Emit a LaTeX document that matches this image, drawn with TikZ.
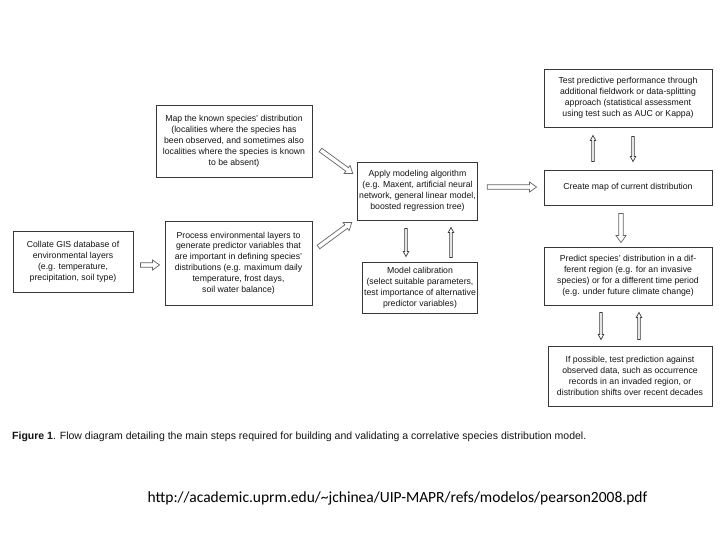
\documentclass[tikz,border=0pt]{standalone}
\usepackage{fontspec}
\setmainfont{Liberation Sans}
\newfontfamily\linkfont{Carlito}
\usepackage{tikz}
\usetikzlibrary{calc}
\definecolor{box_gray}{RGB}{55,55,55}
\definecolor{text_gray}{RGB}{20,20,20}
\definecolor{edge_gray}{RGB}{100,100,100}
\newcommand\boxfont{\fontsize{8.7}{10.9}\selectfont}
\newcommand\capfont{\fontsize{10.5}{12}\selectfont}

\begin{document}
\begin{tikzpicture}[x=1pt,y=-1pt,line join=miter]
    \tikzstyle{box}=[draw=box_gray, line width=0.9pt, rectangle, fill=white, text=text_gray, align=center, font=\boxfont, inner sep=2pt]
    \tikzstyle{hollow}=[draw=edge_gray, fill=white, line width=0.7pt,
      to path={let \p1=(\tikztostart), \p2=(\tikztotarget),
        \n1={atan2(\y2-\y1,\x2-\x1)}, \n2={veclen(\x2-\x1,\y2-\y1)} in
        ([shift={(\p1)},rotate=\n1]0pt,-\sw)
        -- ([shift={(\p1)},rotate=\n1]{\n2*1pt-\hl},-\sw)
        -- ([shift={(\p1)},rotate=\n1]{\n2*1pt-\hl},-\hw)
        -- ([shift={(\p1)},rotate=\n1]{\n2*1pt},0pt)
        -- ([shift={(\p1)},rotate=\n1]{\n2*1pt-\hl},\hw)
        -- ([shift={(\p1)},rotate=\n1]{\n2*1pt-\hl},\sw)
        -- ([shift={(\p1)},rotate=\n1]0pt,\sw) -- cycle}]
    \tikzstyle{fat}=[style=hollow, /utils/exec={\def\sw{2.2pt}\def\hw{5pt}\def\hl{7pt}}]
    \tikzstyle{slim}=[style=hollow, draw=box_gray, /utils/exec={\def\sw{1.2pt}\def\hw{2.7pt}\def\hl{5pt}}]

    \fill[white] (0,0) rectangle (720,540);
    \useasboundingbox (0,0) rectangle (720,540);

    % left column
    \node[box, minimum width=120pt, minimum height=61pt] (collate) at (73,262)
      {Collate GIS database of\\environmental layers\\(e.g. temperature,\\precipitation, soil type)};
    \node[box, minimum width=156pt, minimum height=72pt] (map) at (234,141)
      {Map the known species' distribution\\(localities where the species has\\been observed, and sometimes also\\localities where the species is known\\to be absent)};
    \node[box, minimum width=147pt, minimum height=84pt] (process) at (238.5,263)
      {Process environmental layers to\\generate predictor variables that\\are important in defining species'\\distributions (e.g. maximum daily\\temperature, frost days,\\soil water balance)};

    % middle column
    \node[box, minimum width=117pt, minimum height=58pt] (apply) at (417.5,191)
      {Apply modeling algorithm\\(e.g. Maxent, artificial neural\\network, general linear model,\\boosted regression tree)};
    \node[box, minimum width=112pt, minimum height=51pt] (calib) at (420,287.5)
      {Model calibration\\(select suitable parameters,\\test importance of alternative\\predictor variables)};

    % right column
    \node[box, minimum width=168pt, minimum height=58pt] (test) at (628,98)
      {Test predictive performance through\\additional fieldwork or data-splitting\\approach (statistical assessment\\using test such as AUC or Kappa)};
    \node[box, minimum width=168pt, minimum height=35pt] (create) at (628,187.5)
      {Create map of current distribution};
    \node[box, minimum width=168pt, minimum height=58pt] (predict) at (628,276)
      {Predict species' distribution in a dif-\\ferent region (e.g. for an invasive\\species) or for a different time period\\(e.g. under future climate change)};
    \node[box, minimum width=164pt, minimum height=60pt] (check) at (630,376)
      {If possible, test prediction against\\observed data, such as occurrence\\records in an invaded region, or\\distribution shifts over recent decades};

    \path
     ([shift={(7,3)}]collate.east) edge[fat] ([shift={(-5,2)}]process.west)
     ([shift={(8,9)}]map.east) edge[fat] ([shift={(-4,12)}]apply.north west)
     ([shift={(6,-16)}]process.east) edge[fat] ([shift={(-5,2)}]apply.south west)
     ([shift={(9,-4)}]apply.east) edge[fat] ([shift={(-7,-0.5)}]create.west)
     ([shift={(-11.5,8)}]apply.south) edge[slim] ([shift={(-14,-5)}]calib.north)
     ([shift={(31,-4)}]calib.north) edge[slim] ([shift={(33.5,7)}]apply.south)
     ([shift={(-35,-8)}]create.north) edge[slim] ([shift={(-35,8)}]test.south)
     ([shift={(5,9)}]test.south) edge[slim] ([shift={(5,-8)}]create.north)
     ([shift={(-7,8)}]create.south) edge[fat] ([shift={(-7,-4)}]predict.north)
     ([shift={(-27,7)}]predict.south) edge[slim] ([shift={(-29,-6)}]check.north)
     ([shift={(9,-6)}]check.north) edge[slim] ([shift={(11,7)}]predict.south)
     ;

    \node[anchor=west, font=\capfont, text=text_gray, inner sep=0pt] (caption) at (12,437)
      {\textbf{Figure 1}. Flow diagram detailing the main steps required for building and validating a correlative species distribution model.};
    \node[font=\linkfont\fontsize{15.5}{18}\selectfont, inner sep=0pt] (source) at (397.5,498)
      {http://academic.uprm.edu/\textasciitilde jchinea/UIP-MAPR/refs/modelos/pearson2008.pdf};
\end{tikzpicture}
\end{document}
